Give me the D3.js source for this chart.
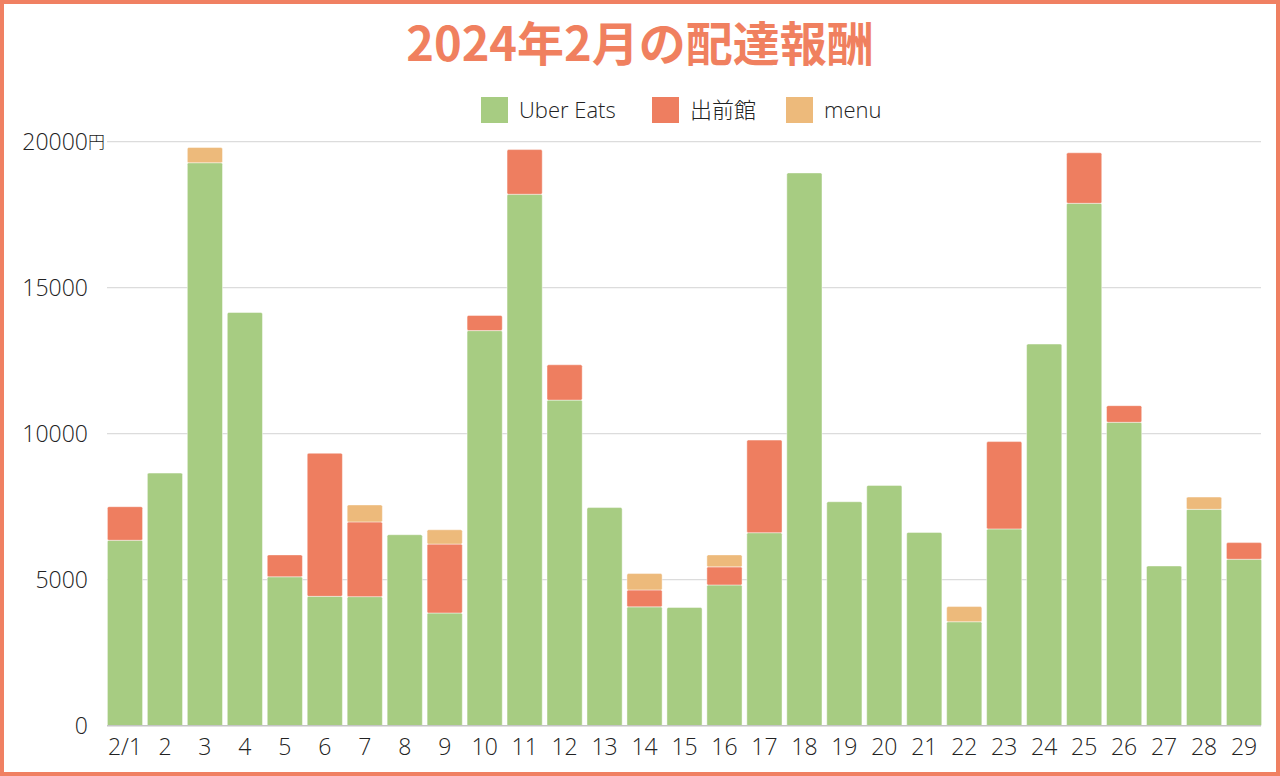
<!DOCTYPE html>
<html><head><meta charset="utf-8">
<script src="https://cdn.jsdelivr.net/npm/d3@7"></script>
<style>
html,body{margin:0;padding:0;background:#fff;}
svg{display:block;}
text{font-family:"Open Sans","Noto Sans CJK JP",sans-serif;font-weight:300;}
</style></head>
<body>
<svg id="chart" width="1280" height="776"></svg>
<script>
const days = ["2/1","2","3","4","5","6","7","8","9","10","11","12","13","14","15","16","17","18","19","20","21","22","23","24","25","26","27","28","29"];
const seriesNames = ["Uber Eats","出前館","menu"];
const uberEats = [6350,8650,19280,14150,5100,4430,4420,6540,3860,13530,18200,11150,7470,4070,4050,4820,6610,18930,7670,8230,6620,3560,6740,13070,17890,10390,5470,7410,5700];
const demaekan = [1150,0,0,0,750,4900,2560,0,2360,520,1530,1210,0,580,0,620,3170,0,0,0,0,0,2990,0,1730,570,0,0,570];
const menu     = [0,0,520,0,0,0,580,0,490,0,0,0,0,560,0,410,0,0,0,0,0,520,0,0,0,0,0,420,0];
const yTicks = [0,5000,10000,15000,20000];
const colors = ["#a7cc82","#ee7e60","#edba7b"];
const borderColor = "#f08062";

const svg = d3.select("#chart");
const W = 1280, H = 776;

// border
svg.append("rect").attr("x",2).attr("y",2).attr("width",W-4).attr("height",H-4)
  .attr("fill","#fff").attr("stroke",borderColor).attr("stroke-width",4);

// title
svg.append("text").attr("x",640).attr("y",61).attr("text-anchor","middle")
  .style("font-family","'Noto Sans CJK JP',sans-serif").style("font-weight","700")
  .style("font-size","47px").attr("fill","#f0805f").text("2024年2月の配達報酬");

const table = days.map((d,i)=>({day:d,"Uber Eats":uberEats[i],"出前館":demaekan[i],"menu":menu[i]}));
const stack = d3.stack().keys(seriesNames)(table);

const x = d3.scaleBand().domain(days).range([105,1264]).paddingInner(0.12).paddingOuter(0.06);
const y = d3.scaleLinear().domain([0,20000]).range([725.7,141.7]);

// gridlines
svg.append("g").selectAll("line").data(yTicks.filter(t=>t>0)).join("line")
  .attr("x1",107).attr("x2",1261).attr("y1",d=>y(d)).attr("y2",d=>y(d))
  .attr("stroke","#dcdcdc").attr("stroke-width",1.3);

// y axis
const yAxis = svg.append("g").attr("transform","translate(88,0)")
  .call(d3.axisLeft(y).tickValues(yTicks).tickSize(0).tickPadding(0).tickFormat(d3.format("d")));
yAxis.select(".domain").remove();
yAxis.selectAll("text").style("font-size","23px").attr("fill","#222").attr("dy","0.36em");
svg.append("text").attr("x",88).attr("y",y(20000)).attr("dy","0.38em")
  .style("font-size","17px").attr("fill","#222").text("円");

// bars
const g = svg.append("g");
stack.forEach((s,si)=>{
  g.append("g").selectAll("rect").data(s.filter(d=>d[1]-d[0]>0)).join("rect")
    .attr("x",d=>x(d.data.day)).attr("width",x.bandwidth())
    .attr("y",d=>y(d[1])).attr("height",d=>y(d[0])-y(d[1]))
    .attr("fill",colors[si]).attr("stroke","rgba(255,255,255,0.55)").attr("stroke-width",0.8)
    .attr("rx",1.5);
});

// x axis baseline & labels
const xAxis = svg.append("g").attr("transform","translate(0,725.7)")
  .call(d3.axisBottom(x).tickSize(0).tickPadding(0));
xAxis.select(".domain").remove();
xAxis.selectAll("text").style("font-size","23px").attr("fill","#222").attr("y",29).attr("dy","0");
svg.append("line").attr("x1",107).attr("x2",1261).attr("y1",725.7).attr("y2",725.7)
  .attr("stroke","#c4c4c4").attr("stroke-width",1.5);

// legend
const legendX = [481,652,786];
const lg = svg.append("g");
seriesNames.forEach((n,i)=>{
  lg.append("rect").attr("x",legendX[i]).attr("y",97).attr("width",27).attr("height",26).attr("fill",colors[i]);
  lg.append("text").attr("x",legendX[i]+38).attr("y",118).style("font-size","22px").attr("fill","#222").text(n);
});
</script>
</body></html>
